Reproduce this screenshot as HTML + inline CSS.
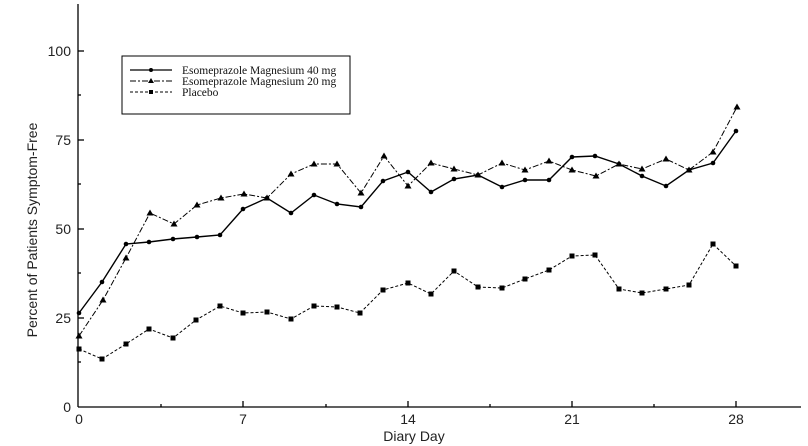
<!DOCTYPE html>
<html><head><style>body{margin:0;background:#fff}svg{display:block}</style></head><body>
<svg width="808" height="446" xmlns="http://www.w3.org/2000/svg" font-family="Liberation Sans, sans-serif">
<defs>
<path id="T" d="M0,-3.5 l3.5,6 h-7z" fill="#000"/>
<rect id="S" x="-2.5" y="-2.5" width="5" height="5" fill="#000"/>
</defs>
<rect width="808" height="446" fill="#fff"/>
<g stroke="#000" stroke-width="1.3" fill="none">
<line x1="78" y1="4" x2="78" y2="407"/>
<line x1="78" y1="407" x2="801" y2="407"/>
<line x1="78" y1="51" x2="84" y2="51"/><line x1="78" y1="140" x2="84" y2="140"/><line x1="78" y1="229" x2="84" y2="229"/><line x1="78" y1="318" x2="84" y2="318"/>
<line x1="78" y1="95" x2="81" y2="95"/><line x1="78" y1="184" x2="81" y2="184"/><line x1="78" y1="273" x2="81" y2="273"/><line x1="78" y1="362" x2="81" y2="362"/>
<line x1="243" y1="407" x2="243" y2="401"/><line x1="408" y1="407" x2="408" y2="401"/><line x1="572" y1="407" x2="572" y2="401"/><line x1="736" y1="407" x2="736" y2="401"/>
<line x1="161" y1="407" x2="161" y2="404"/><line x1="326" y1="407" x2="326" y2="404"/><line x1="490" y1="407" x2="490" y2="404"/><line x1="654" y1="407" x2="654" y2="404"/>
</g>
<g font-size="14" text-anchor="end" fill="#222">
<text x="71" y="56">100</text><text x="71" y="145">75</text><text x="71" y="234">50</text><text x="71" y="323">25</text><text x="71" y="412">0</text>
</g>
<g font-size="14" text-anchor="middle" fill="#222">
<text x="79" y="424">0</text><text x="243" y="424">7</text><text x="408" y="424">14</text><text x="572" y="424">21</text><text x="736" y="424">28</text>
<text x="414" y="441">Diary Day</text>
<text transform="translate(37,230) rotate(-90)">Percent of Patients Symptom-Free</text>
</g>
<polyline fill="none" stroke="#000" stroke-width="1.4" points="79,313 102,282 126,244 149,242 173,239 197,237 220,235 243,209 267,198 291,213 314,195 337,204 361,207 383,181 408,172 431,192 454,179 478,175 502,187 525,180 549,180 572,157 595,156 619,164 642,176 666,186 689,170 713,163 736,131"/>
<g fill="#000">
<circle cx="79" cy="313" r="2.3"/><circle cx="102" cy="282" r="2.3"/><circle cx="126" cy="244" r="2.3"/><circle cx="149" cy="242" r="2.3"/><circle cx="173" cy="239" r="2.3"/><circle cx="197" cy="237" r="2.3"/><circle cx="220" cy="235" r="2.3"/><circle cx="243" cy="209" r="2.3"/><circle cx="267" cy="198" r="2.3"/><circle cx="291" cy="213" r="2.3"/><circle cx="314" cy="195" r="2.3"/><circle cx="337" cy="204" r="2.3"/><circle cx="361" cy="207" r="2.3"/><circle cx="383" cy="181" r="2.3"/><circle cx="408" cy="172" r="2.3"/><circle cx="431" cy="192" r="2.3"/><circle cx="454" cy="179" r="2.3"/><circle cx="478" cy="175" r="2.3"/><circle cx="502" cy="187" r="2.3"/><circle cx="525" cy="180" r="2.3"/><circle cx="549" cy="180" r="2.3"/><circle cx="572" cy="157" r="2.3"/><circle cx="595" cy="156" r="2.3"/><circle cx="619" cy="164" r="2.3"/><circle cx="642" cy="176" r="2.3"/><circle cx="666" cy="186" r="2.3"/><circle cx="689" cy="170" r="2.3"/><circle cx="713" cy="163" r="2.3"/><circle cx="736" cy="131" r="2.3"/>
</g>
<polyline fill="none" stroke="#000" stroke-width="1" stroke-dasharray="6,2,2,2" points="79,336 103,300 126,258 150,213 174,224 197,205 221,198 244,194 267,198 291,174 314,164 337,164 361,193 384,156 408,186 431,163 454,169 478,175 502,163 525,170 549,161 572,170 596,176 619,164 642,169 666,159 689,170 713,152 737,107"/>
<g>
<use href="#T" x="79" y="336"/><use href="#T" x="103" y="300"/><use href="#T" x="126" y="258"/><use href="#T" x="150" y="213"/><use href="#T" x="174" y="224"/><use href="#T" x="197" y="205"/><use href="#T" x="221" y="198"/><use href="#T" x="244" y="194"/><use href="#T" x="267" y="198"/><use href="#T" x="291" y="174"/><use href="#T" x="314" y="164"/><use href="#T" x="337" y="164"/><use href="#T" x="361" y="193"/><use href="#T" x="384" y="156"/><use href="#T" x="408" y="186"/><use href="#T" x="431" y="163"/><use href="#T" x="454" y="169"/><use href="#T" x="478" y="175"/><use href="#T" x="502" y="163"/><use href="#T" x="525" y="170"/><use href="#T" x="549" y="161"/><use href="#T" x="572" y="170"/><use href="#T" x="596" y="176"/><use href="#T" x="619" y="164"/><use href="#T" x="642" y="169"/><use href="#T" x="666" y="159"/><use href="#T" x="689" y="170"/><use href="#T" x="713" y="152"/><use href="#T" x="737" y="107"/>
</g>
<polyline fill="none" stroke="#000" stroke-width="1" stroke-dasharray="3,2" points="79,349 102,359 126,344 149,329 173,338 196,320 220,306 243,313 267,312 291,319 314,306 337,307 360,313 383,290 408,283 431,294 454,271 478,287 502,288 525,279 549,270 572,256 595,255 619,289 642,293 666,289 689,285 713,244 736,266"/>
<g>
<use href="#S" x="79" y="349"/><use href="#S" x="102" y="359"/><use href="#S" x="126" y="344"/><use href="#S" x="149" y="329"/><use href="#S" x="173" y="338"/><use href="#S" x="196" y="320"/><use href="#S" x="220" y="306"/><use href="#S" x="243" y="313"/><use href="#S" x="267" y="312"/><use href="#S" x="291" y="319"/><use href="#S" x="314" y="306"/><use href="#S" x="337" y="307"/><use href="#S" x="360" y="313"/><use href="#S" x="383" y="290"/><use href="#S" x="408" y="283"/><use href="#S" x="431" y="294"/><use href="#S" x="454" y="271"/><use href="#S" x="478" y="287"/><use href="#S" x="502" y="288"/><use href="#S" x="525" y="279"/><use href="#S" x="549" y="270"/><use href="#S" x="572" y="256"/><use href="#S" x="595" y="255"/><use href="#S" x="619" y="289"/><use href="#S" x="642" y="293"/><use href="#S" x="666" y="289"/><use href="#S" x="689" y="285"/><use href="#S" x="713" y="244"/><use href="#S" x="736" y="266"/>
</g>
<rect x="122" y="56" width="228" height="58" fill="#fff" stroke="#000" stroke-width="1"/>
<line x1="130" y1="70" x2="172" y2="70" stroke="#000" stroke-width="1.2"/><circle cx="151" cy="70" r="2" fill="#000"/>
<line x1="130" y1="81" x2="172" y2="81" stroke="#000" stroke-dasharray="6,2,2,2"/><path d="M151,78 l3,5 h-6z" fill="#000"/>
<line x1="130" y1="92" x2="172" y2="92" stroke="#000" stroke-dasharray="3,2"/><rect x="149" y="90" width="4" height="4" fill="#000"/>
<g font-family="Liberation Serif, serif" font-size="11.5" fill="#111">
<text x="182" y="74">Esomeprazole Magnesium 40 mg</text>
<text x="182" y="85">Esomeprazole Magnesium 20 mg</text>
<text x="182" y="96">Placebo</text>
</g>
</svg>
</body></html>
